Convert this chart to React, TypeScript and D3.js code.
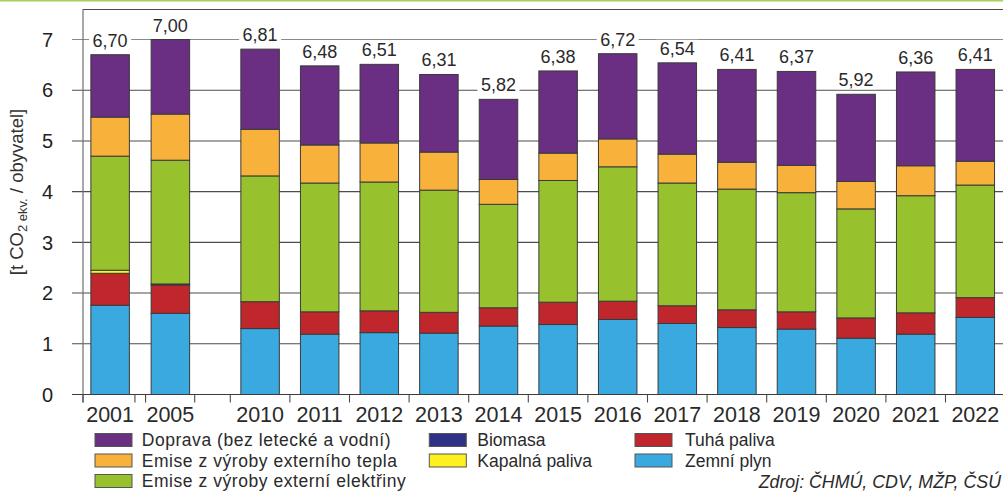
import React from 'react';
import * as d3 from 'd3';

const years = ['2001', '2005', '2010', '2011', '2012', '2013', '2014', '2015', '2016', '2017', '2018', '2019', '2020', '2021', '2022'];
const earlyYears = ['2001', '2005'];
const mainYears = years.slice(2);

// t CO2 ekv. / obyvatel
const gas = [1.76, 1.60, 1.30, 1.19, 1.22, 1.21, 1.35, 1.38, 1.48, 1.40, 1.32, 1.29, 1.11, 1.19, 1.52];
const solid = [0.63, 0.56, 0.53, 0.44, 0.43, 0.41, 0.36, 0.44, 0.36, 0.35, 0.35, 0.34, 0.40, 0.42, 0.39];
const biomass = [0, 0, 0, 0, 0, 0, 0, 0, 0, 0, 0, 0, 0, 0, 0];
const liquid = [0.06, 0.02, 0, 0, 0, 0, 0, 0, 0, 0, 0, 0, 0, 0, 0];
const electricity = [2.25, 2.44, 2.48, 2.54, 2.54, 2.41, 2.04, 2.40, 2.65, 2.42, 2.38, 2.35, 2.15, 2.31, 2.22];
const heat = [0.77, 0.91, 0.92, 0.75, 0.77, 0.75, 0.49, 0.54, 0.55, 0.57, 0.53, 0.54, 0.54, 0.59, 0.47];
const transport = [1.23, 1.47, 1.58, 1.56, 1.55, 1.53, 1.58, 1.62, 1.68, 1.80, 1.83, 1.85, 1.72, 1.85, 1.81];
const totals = [6.70, 7.00, 6.81, 6.48, 6.51, 6.31, 5.82, 6.38, 6.72, 6.54, 6.41, 6.37, 5.92, 6.36, 6.41];

const yTicks = [0, 1, 2, 3, 4, 5, 6, 7];

const seriesKeys = ['gas', 'solid', 'biomass', 'liquid', 'electricity', 'heat', 'transport'];
const seriesNames: Record<string, string> = {
  transport: 'Doprava (bez letecké a vodní)',
  heat: 'Emise z výroby externího tepla',
  electricity: 'Emise z výroby externí elektřiny',
  biomass: 'Biomasa',
  liquid: 'Kapalná paliva',
  solid: 'Tuhá paliva',
  gas: 'Zemní plyn',
};
const colors: Record<string, string> = {
  transport: '#6a2e82',
  heat: '#f8b23b',
  electricity: '#97c12d',
  biomass: '#2f3186',
  liquid: '#fff01f',
  solid: '#c0272d',
  gas: '#3aa9e0',
};
const legendColumns = [
  ['transport', 'heat', 'electricity'],
  ['biomass', 'liquid'],
  ['solid', 'gas'],
];
const sourceText = 'Zdroj: ČHMÚ, CDV, MŽP, ČSÚ';

const W = 1003;
const H = 492;
const FONT = '"Liberation Sans", Arial, sans-serif';

export default function App() {
  const rows = years.map((yr, i) => ({
    year: yr,
    gas: gas[i],
    solid: solid[i],
    biomass: biomass[i],
    liquid: liquid[i],
    electricity: electricity[i],
    heat: heat[i],
    transport: transport[i],
  }));
  const stacked = d3.stack<any>().keys(seriesKeys)(rows);

  const y = d3.scaleLinear().domain([0, 7]).range([394.5, 39.5]);
  const pad = 0.354;
  const xMain = d3.scaleBand<string>().domain(mainYears).range([230.3, 1005.1]).paddingInner(pad).paddingOuter(pad / 2);
  const xEarly = d3.scaleBand<string>().domain(earlyYears).range([80, 200.5]).paddingInner(pad).paddingOuter(pad / 2);
  const bw = xMain.bandwidth();
  const xc = (yr: string) =>
    earlyYears.includes(yr) ? (xEarly(yr) as number) + xEarly.bandwidth() / 2 : (xMain(yr) as number) + bw / 2;

  const plotLeft = 83;
  const axisLeft = 72;
  const baseY = y(0);

  // tick marks along the x axis: frame, axis break, and band boundaries
  const earlyBoundary = (xEarly('2005') as number) - (xEarly.step() * pad) / 2;
  const gapHalf = 5.3;
  const earlyEnd = (xEarly.range()[1] as number) - 5.8;
  const xTickPos = [plotLeft, earlyBoundary - gapHalf, earlyBoundary + gapHalf, earlyEnd].concat(
    mainYears.map((yr) => (xMain(yr) as number) - (xMain.step() * pad) / 2)
  );

  const fmt = (v: number) => d3.format('.2f')(v).replace('.', ',');

  const legendX = [95, 429.3, 635];
  const legendTextX = [141.7, 477.3, 685];
  const legendRowY = [440, 460.5, 481];
  const legendSpacing = [0.55, 0, 0];

  return (
    <svg width={W} height={H} style={{ position: 'absolute', left: 0, top: 0 }} fontFamily={FONT}>
      <rect x={0} y={0} width={W} height={H} fill="#ffffff" />
      <line x1={0} x2={W} y1={0.75} y2={0.75} stroke="#a8d05a" strokeWidth={1.6} />
      <line x1={plotLeft} x2={W} y1={9.5} y2={9.5} stroke="#4a4a4a" strokeWidth={1} />

      {/* gridlines */}
      {yTicks.filter((t) => t > 0).map((t) => (
        <line key={t} x1={axisLeft} x2={W} y1={y(t)} y2={y(t)} stroke={t === 7 ? '#8a8a8a' : '#4d4d4d'} strokeWidth={1.1} />
      ))}

      {/* bars */}
      {stacked.map((layer) => (
        <g key={layer.key} fill={colors[layer.key]}>
          {layer.map((d, i) => {
            const h = y(d[0]) - y(d[1]);
            if (h <= 0.01) return null;
            return (
              <rect
                key={i}
                x={xc(years[i]) - bw / 2}
                y={y(d[1])}
                width={bw}
                height={h}
                stroke="#3a3a3a"
                strokeWidth={1}
              />
            );
          })}
        </g>
      ))}

      {/* frame & axes */}
      <line x1={plotLeft} x2={plotLeft} y1={9} y2={baseY + 8} stroke="#6e6e6e" strokeWidth={1.2} />
      <line x1={axisLeft} x2={W} y1={baseY} y2={baseY} stroke="#3c3c3c" strokeWidth={1.2} />
      {xTickPos.map((p, i) => (
        <line key={i} x1={p} x2={p} y1={baseY} y2={baseY + 8} stroke="#4a4a4a" strokeWidth={1.1} />
      ))}

      {/* y tick labels */}
      {yTicks.map((t) => (
        <text key={t} x={53} y={y(t)} dy="0.36em" textAnchor="end" fontSize={20} fill="#1e1e1e">
          {t}
        </text>
      ))}

      {/* x tick labels */}
      {years.map((yr) => (
        <text key={yr} x={xc(yr)} y={421.5} textAnchor="middle" fontSize={21.5} fill="#2a2a2a">
          {yr}
        </text>
      ))}

      {/* value labels */}
      {years.map((yr, i) => {
        const by = y(totals[i]) - 8;
        return (
          <g key={yr}>
            <rect x={xc(yr) - 21} y={by - 15} width={42} height={18} fill="#ffffff" />
            <text x={xc(yr)} y={by} textAnchor="middle" fontSize={18} fill="#2a2a2a">
              {fmt(totals[i])}
            </text>
          </g>
        );
      })}

      {/* y axis title */}
      <text transform="translate(22.8,192) rotate(-90)" textAnchor="middle" fontSize={18.5} fill="#333">
        [t CO<tspan fontSize={13} dy={4}>2 ekv.</tspan>
        <tspan dy={-4}> / obyvatel]</tspan>
      </text>

      {/* legend */}
      {legendColumns.map((col, ci) =>
        col.map((key, ri) => (
          <g key={key}>
            <rect
              x={legendX[ci]}
              y={legendRowY[ri] - 6.5}
              width={37}
              height={13}
              fill={colors[key]}
              stroke="#555"
              strokeWidth={1}
            />
            <text
              x={legendTextX[ci]}
              y={legendRowY[ri]}
              dy="0.36em"
              fontSize={17.5}
              letterSpacing={legendSpacing[ci]}
              fill="#2a2a2a"
            >
              {seriesNames[key]}
            </text>
          </g>
        ))
      )}

      <text x={1001} y={487.5} textAnchor="end" fontSize={17.8} fontStyle="italic" fill="#2a2a2a">
        {sourceText}
      </text>
    </svg>
  );
}
